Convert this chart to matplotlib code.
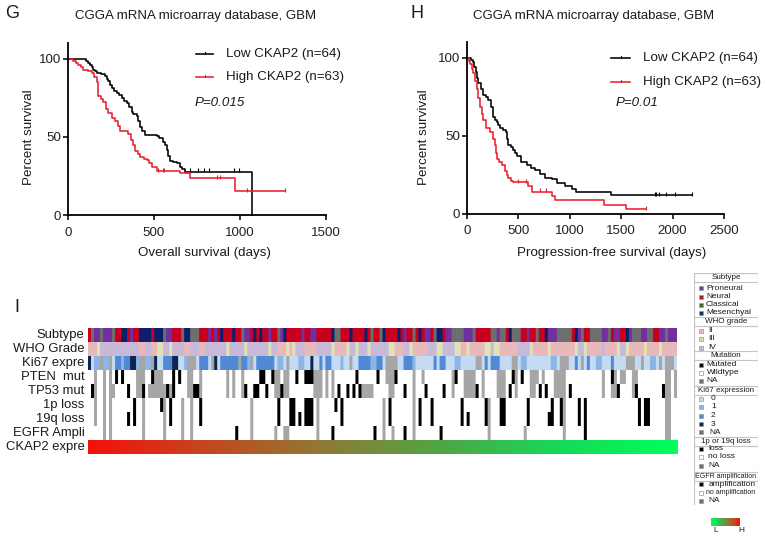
# CKAP2 survival curves (CGGA GBM) and the clinical/molecular heatmap
import numpy as np
import matplotlib
matplotlib.use('Agg')
import matplotlib.pyplot as plt
from matplotlib.colors import LinearSegmentedColormap, to_rgb
from matplotlib.lines import Line2D
from matplotlib.patches import Rectangle

plt.rcParams['font.family'] = ['Liberation Sans', 'DejaVu Sans']

W, H = 765, 538

# --- panel G: overall survival, step points (days, percent)
os_low_days = [0, 105, 118, 128, 140, 147, 157, 167, 190, 215, 225, 235, 245, 254, 268, 283, 298, 312, 326, 341, 355, 370, 380, 399, 409, 419, 433, 448, 515, 530, 554, 564, 574, 584, 593, 612, 632, 651, 665, 680, 1072]
os_low_pct = [100, 98.5, 97, 96, 94.5, 93, 92, 90.5, 90, 89, 87, 85.5, 83, 81, 79.5, 78, 76.5, 75, 73, 71.5, 69, 66, 64.5, 63, 60, 56.5, 54, 51, 50.5, 49, 47, 44.5, 41.5, 38, 34.5, 34, 33, 31, 29.5, 27.8, 0]
os_low_cens = [709, 754, 791, 820, 965, 996]
os_high_days = [0, 27, 45, 60, 75, 89, 115, 138, 152, 167, 176, 190, 205, 220, 234, 255, 273, 288, 302, 351, 365, 380, 390, 405, 419, 440, 457, 472, 486, 515, 650, 709, 971, 1261]
os_high_pct = [100, 98.5, 97, 96, 94.5, 93, 92, 91, 88, 85, 76, 74, 72, 68, 65, 62, 60, 57, 54, 52, 48, 45, 41, 39, 37, 36, 35, 33, 31, 28, 27, 23.5, 15.5, 15.5]
os_high_cens = [521, 550, 558, 868, 884, 1042, 1261]

# --- panel H: progression-free survival
pfs_low_days = [0, 40, 60, 72, 84, 97, 110, 135, 159, 185, 207, 230, 256, 270, 288, 305, 321, 350, 379, 390, 402, 425, 450, 470, 489, 521, 580, 620, 660, 709, 758, 822, 871, 952, 1017, 1059, 1399, 2192]
pfs_low_pct = [100, 98.5, 97, 94, 91, 87, 84, 80, 76, 74.5, 73, 68, 62, 60, 59, 57, 55, 53.5, 52, 48, 44, 42.5, 41, 39, 37, 33, 31, 29.5, 28, 25.6, 23, 22, 19.5, 17.5, 15.5, 13.7, 11.8, 11.8]
pfs_low_cens = [1826, 1843, 1869, 1933, 2027, 2189]
pfs_high_days = [0, 15, 29, 45, 62, 78, 94, 110, 126, 142, 159, 185, 223, 250, 272, 280, 288, 310, 337, 369, 385, 402, 425, 450, 596, 628, 822, 855, 1331, 1551, 1745]
pfs_high_pct = [100, 98, 96, 93, 90, 85, 80, 74, 68, 64, 60, 55, 52, 48, 44, 39, 35, 33, 31, 27, 25, 23, 21, 20, 17.6, 14, 11, 8.5, 5.7, 3, 3]
pfs_high_cens = [500, 573, 709, 764, 1745]

# --- panel I: heatmap, run-length coded annotation rows
n_samples = 196
subtype_runs = ("R1 G1 P2 G1 P3 G1 R2 N2 R1 P1 R2 N4 R1 N3 G1 P2 R3 G1 N2 G3 R3 P1 R1 P1 R1 N1 R3 N1 R2 G1 P2 R1 N1 R1 N1 R2 P1 R2 G1 P1 N1 "
                "R5 P1 R1 R1 P2 R5 N1 G2 R3 N1 R4 N1 R1 G1 R2 G1 N1 R4 N1 R1 P1 R2 G1 R1 N1 R1 P2 R1 G1 N2 R1 P2 G4 P3 G1 R5 "
                "G2 P1 G2 R1 N1 G3 R2 P1 R2 G1 R2 N1 P3 G5 R1 N1 P1 G1 R2 G4 P2 G1 R1 P2 R2 N1 P1 G3 P2 G2 R2 P2 G1 P3")
who_runs = ("K3 Y1 L13 K2 L2 K2 Y2 L2 Y1 L4 K2 L3 K2 L7 Y1 L5 Y1 L7 Y1 L2 K3 "
            "Y1 K1 Y1 L3 K4 L5 Y1 K4 Y1 L2 Y1 L3 Y1 L6 Y2 K3 L2 Y1 K5 L3 Y2 L4 Y2 K2 Y1 K5 "
            "Y2 L1 Y2 K6 L4 Y1 K5 Y1 K8 Y1 L2 Y1 K5 L1 K4 Y1 L2 Y1 K5 Y1 K4 Y1 K5")
ki67_runs = ("T1 O1 A2 S1 A2 S1 O1 B2 A1 B2 T2 A1 S2 A2 S1 T1 O2 B3 T2 O2 A1 S3 O1 B3 O1 S1 T1 O1 B6 S1 B2 A1 S1 O1 B6 O1 A2 O1 "
             "S1 O3 A2 O2 T1 O2 B1 O1 B2 O3 A1 O2 S1 O2 B4 A2 B2 O1 S4 O2 B3 A1 O6 B1 O1 B2 O3 A2 "
             "O5 S2 O1 B1 O1 B3 O4 S2 O1 A2 O8 A2 O1 S3 O2 B1 O1 S1 O1 B1 O2 A2 O3 B1 O4 S3 O2 S1 O2 A2 O1 S1 O1 S3 O1")

pten_black = [9, 11, 21, 28, 30, 57, 58, 61, 69, 72, 73, 74, 89, 96, 102, 122, 141, 144, 174]
pten_na = [2, 5, 7, 16, 17, 18, 22, 23, 24, 33, 34, 37, 46, 48, 51, 62, 63, 65, 66, 75, 76, 77, 79, 81, 99, 100, 101, 108, 111,
           121, 125, 126, 127, 128, 131, 136, 137, 138, 142, 147, 148, 149, 151, 155, 156, 157, 158, 171, 175, 177, 178, 181, 182, 192, 193, 195]
tp53_black = [1, 13, 18, 26, 28, 35, 36, 52, 55, 56, 59, 64, 83, 86, 88, 90, 105, 112, 118, 129, 140, 150, 152, 160, 176, 182, 191]
tp53_na = [2, 5, 7, 8, 16, 17, 20, 21, 22, 23, 24, 25, 27, 33, 34, 37, 46, 48, 51, 62, 63, 65, 66, 75, 76, 77, 79, 81, 91, 92, 93, 94,
           100, 101, 108, 121, 125, 126, 127, 128, 131, 136, 137, 138, 142, 147, 148, 155, 156, 157, 158, 171, 174, 175, 181, 192, 193, 195]
loss1p_black = [15, 24, 27, 37, 63, 67, 68, 72, 73, 74, 82, 84, 100, 110, 114, 124, 132, 137, 138, 146, 154, 157, 163, 165, 183, 185, 186]
loss1p_na = [2, 5, 7, 18, 25, 31, 34, 54, 76, 98, 108, 133, 158, 192, 193]
loss19q_black = [13, 15, 27, 37, 63, 67, 68, 70, 72, 73, 74, 84, 100, 110, 114, 124, 126, 132, 137, 138, 146, 153, 154, 157, 163, 165, 183, 185, 186]
loss19q_na = [2, 5, 7, 18, 25, 31, 34, 54, 76, 98, 108, 133, 158, 192, 193]
egfr_black = [49, 81, 95, 105, 117, 165]
egfr_na = [5, 7, 18, 25, 31, 34, 54, 62, 65, 66, 76, 98, 101, 108, 133, 145, 158, 192, 193]

row_labels = ['Subtype', 'WHO Grade', 'Ki67 expre', 'PTEN  mut', 'TP53 mut', '1p loss', '19q loss', 'EGFR Ampli', 'CKAP2 expre']

# heatmap palette, code -> colour
palette = {'W': '#ffffff', 'K': '#e8b9ba', 'Y': '#dfe3b5', 'L': '#c9b9d9',
           'R': '#c8001e', 'N': '#0c1f6e', 'P': '#7030a0', 'G': '#6e6e6e',
           'O': '#c5daf3', 'A': '#8db5e6', 'B': '#5089d6', 'T': '#0d2650',
           'X': '#000000', 'S': '#a6a6a6'}
ckap2_colors = ['#f5100a', '#c4481f', '#8f7a35', '#4fa645', '#18d858', '#00ff5c']


def fx(x):
    return x / W


def fy(y):
    return 1 - y / H


def px_axes(x0, y0, x1, y1):
    return fig.add_axes([fx(x0), fy(y1), (x1 - x0) / W, (y1 - y0) / H])


def expand_runs(runs):
    out = []
    for r in runs.split():
        out += [r[0]] * int(r[1:])
    return (out + ['O'] * n_samples)[:n_samples]


def binary_row(black, na):
    row = ['W'] * n_samples
    for i in na:
        row[i] = 'S'
    for i in black:
        row[i] = 'X'
    return row


def censor_y(days, pct, cens):
    idx = np.searchsorted(days, cens, side='right') - 1
    return np.array(pct)[idx]


def km_panel(box, low, high, xticks, xmax):
    ax = px_axes(*box)
    for (d, p, c), col in zip((low, high), ('black', '#e8202c')):
        ax.plot(d, p, drawstyle='steps-post', color=col, lw=1.15, clip_on=False)
        ax.plot(c, censor_y(d, p, c) + 0.8, ls='none', marker='|', ms=3, mew=0.8, color=col, clip_on=False)
    ax.set_xlim(0, xmax)
    ax.set_ylim(0, 110)
    ax.set_xticks(xticks)
    ax.set_yticks([0, 50, 100])
    ax.spines['top'].set_visible(False)
    ax.spines['right'].set_visible(False)
    ax.spines['left'].set_linewidth(1.3)
    ax.spines['bottom'].set_linewidth(1.3)
    ax.tick_params(width=1.3, length=3.5, labelsize=9.6, color='#222222', labelcolor='#222222')
    ax.tick_params(axis='x', pad=5)
    ax.tick_params(axis='y', pad=1.5)
    return ax


def ftext(x, y, s, size=9.6, ha='left', **kw):
    fig.text(fx(x), fy(y), s, fontsize=size, ha=ha, va='center', color='#1a1a1a', **kw)


fig = plt.figure(figsize=(W / 100, H / 100), dpi=100)

km_panel((68, 43, 326, 215), (os_low_days, os_low_pct, os_low_cens), (os_high_days, os_high_pct, os_high_cens),
         [0, 500, 1000, 1500], 1500)
km_panel((467, 42, 724, 213.5), (pfs_low_days, pfs_low_pct, pfs_low_cens), (pfs_high_days, pfs_high_pct, pfs_high_cens),
         [0, 500, 1000, 1500, 2000, 2500], 2500)

# text around the two survival panels
ftext(12, 14, 'G', size=13, ha='center')
ftext(417, 14, 'H', size=13, ha='center')
ftext(17, 307, 'I', size=13, ha='center')
ftext(196, 15.5, 'CGGA mRNA microarray database, GBM', size=9.5, ha='center')
ftext(594, 15.5, 'CGGA mRNA microarray database, GBM', size=9.5, ha='center')
ftext(205, 253, 'Overall survival (days)', ha='center')
ftext(612, 253, 'Progression-free survival (days)', ha='center')
ftext(29, 137, 'Percent survival', ha='center', rotation=90)
ftext(424, 137, 'Percent survival', ha='center', rotation=90)

key_rows = [(196, 213, 226, 54, 77, 'P=0.015', 195),
            (611, 630, 643, 58, 82, 'P=0.01', 616)]
for x0, x1, xt, y_low, y_high, ptxt, xp in key_rows:
    for y, col, lab in ((y_low, 'black', 'Low CKAP2 (n=64)'), (y_high, '#e8202c', 'High CKAP2 (n=63)')):
        fig.add_artist(Line2D([fx(x0), fx(x1)], [fy(y), fy(y)], color=col, lw=1.15))
        fig.add_artist(Line2D([fx((x0 + x1) / 2)] * 2, [fy(y - 2), fy(y)], color=col, lw=0.8))
        ftext(xt, y, lab)
    ftext(xp, 103, ptxt, style='italic')

# heatmap: each sample drawn with soft edges like the scanned original
rows = [expand_runs(subtype_runs), expand_runs(who_runs), expand_runs(ki67_runs),
        binary_row(pten_black, pten_na), binary_row(tp53_black, tp53_na),
        binary_row(loss1p_black, loss1p_na), binary_row(loss19q_black, loss19q_na),
        binary_row(egfr_black, egfr_na)]
rgb = np.array([[to_rgb(palette[c]) for c in r] for r in rows])
rgb = np.repeat(np.repeat(rgb, 14, axis=0), 3, axis=1)
hm = px_axes(88, 328, 677, 440)
hm.imshow(rgb, aspect='auto', interpolation='bilinear')
hm.axis('off')

grad = px_axes(88, 440, 677, 454)
grad.imshow(np.arange(n_samples)[None, :], cmap=LinearSegmentedColormap.from_list('ckap2', ckap2_colors),
            aspect='auto', interpolation='bilinear')
grad.axis('off')

for i, lab in enumerate(row_labels):
    ftext(84.5, 335 + 14 * i, lab, size=9.4, ha='right')

# key panel on the right, axes in pixel units
leg = px_axes(694, 273, 758, 505)
leg.set_xlim(694, 758)
leg.set_ylim(505, 273)
leg.axis('off')
for s in (273, 317, 351, 386, 437, 472):
    leg.add_patch(Rectangle((694, s), 64, 9, fc='white', ec='#c4c4c4', lw=0.8))
leg.add_patch(Rectangle((694, 273), 64, 232, fc='none', ec='#c4c4c4', lw=0.8))

headers = [('Subtype', 277.5, 5.8), ('WHO grade', 321.5, 5.8), ('Mutation', 355.5, 5.8),
           ('Ki67 expression', 390.5, 5.7), ('1p or 19q loss', 441.5, 5.7), ('EGFR amplification', 476.5, 5)]
for lab, y, sz in headers:
    leg.text(726, y, lab, ha='center', va='center', fontsize=sz, color='#1a1a1a')

key_items = [('Proneural', 288, '#5a4a8a', 706.5), ('Neural', 296.5, '#a51f2e', 706), ('Classical', 305, '#3f6a36', 706), ('Mesenchyal', 312.5, '#1a2a66', 706),
             ('II', 330.5, '#e8b9ba', 708), ('III', 339, '#cfe0a8', 708), ('IV', 347.5, '#c9b9d9', 708),
             ('Mutated', 365, '#000000', 706.5), ('Wildtype', 373, '#ffffff', 706.5), ('NA', 380.5, '#6e6e6e', 706.5),
             ('0', 399, '#c5daf3', 711), ('1', 407, '#8db5e6', 711), ('2', 415.5, '#5089d6', 711), ('3', 424, '#0d2650', 711), ('NA', 432, '#6e6e6e', 709),
             ('loss', 449, '#000000', 708.5), ('no loss', 457, '#ffffff', 708.5), ('NA', 465.5, '#6e6e6e', 708.5),
             ('amplification', 484, '#000000', 708.5), ('no amplification', 492.5, '#ffffff', 706.5), ('NA', 501, '#6e6e6e', 708.5)]
for lab, y, col, xt in key_items:
    leg.plot(700.5, y, ls='none', marker='s', ms=3, mfc=col, mec='#9a9a9a', mew=0.5)
    sz = 5 if lab == 'no amplification' else 6
    leg.text(xt, y, lab, va='center', fontsize=sz, color='#1a1a1a')

# L/H colour key
bar = px_axes(711, 518, 740, 526)
bar.imshow(np.arange(n_samples)[None, ::-1], cmap=LinearSegmentedColormap.from_list('ckap2', ckap2_colors),
           aspect='auto', interpolation='bilinear')
bar.axis('off')
ftext(716, 530.5, 'L', size=6, ha='center')
ftext(741, 530.5, 'H', size=6, ha='center')

fig.savefig('out.png', dpi=100)
